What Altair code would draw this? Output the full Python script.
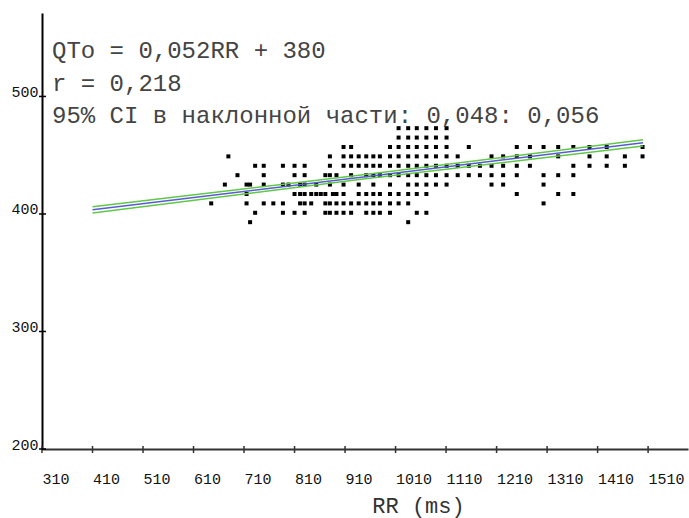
import altair as alt
import pandas as pd

# ---- data ----
rr_columns = [645, 672, 679, 697, 715, 722, 732, 749, 768, 787, 798, 810, 821, 830,
              843, 853, 862, 871, 880, 886, 893, 907, 922, 937, 952, 966, 979, 999,
              1016, 1035, 1052, 1071, 1090, 1111, 1133, 1155, 1177, 1200, 1223, 1250,
              1276, 1303, 1332, 1362, 1394, 1428, 1464, 1499]
qt_by_column = [
    [409], [425], [449], [433], [425, 417, 409], [425, 393], [441, 401],
    [441, 433, 425, 409], [409], [441, 425, 409, 401], [425], [441, 433, 417, 401],
    [425, 417, 409], [441, 433, 425, 417, 409, 401],
    [417, 409], [425, 417], [417], [433, 417, 409, 401], [449, 441, 433, 425, 409, 401],
    [417], [433, 417, 409, 401], [457, 449, 441, 425, 417, 409, 401],
    [457, 449, 441, 433, 409, 401], [449, 441, 425, 417, 409],
    [449, 441, 433, 417, 409, 401], [449, 441, 433, 425, 417, 409, 401],
    [449, 441, 433, 417, 409, 401], [457, 449, 441, 433, 425, 417, 409, 401],
    [473, 465, 457, 449, 441, 433, 417, 409],
    [473, 465, 457, 449, 441, 433, 425, 417, 409, 393],
    [473, 465, 457, 449, 441, 433, 425, 417, 401],
    [473, 465, 457, 449, 441, 433, 425, 417, 401],
    [473, 465, 457, 449, 441, 433, 425],
    [473, 465, 457, 449, 441, 433, 425],
    [449, 441, 433], [457, 441, 433], [441, 433], [449, 441, 433, 425],
    [449, 441, 433, 425], [457, 449, 441, 433, 417], [457, 449, 441],
    [457, 433, 425, 409], [457, 449, 433, 417], [457, 441, 433, 417],
    [457, 449, 441], [457, 449, 441], [449, 441], [457, 449],
]

x_ticks = [310, 410, 510, 610, 710, 810, 910, 1010, 1110, 1210, 1310, 1410, 1510]
y_ticks = [200, 300, 400, 500]

fit_rr = [410, 950, 1500]
fit_qt = [403.5, 431.7, 460.5]
ci_upper_qt = [406.2, 433.5, 463.1]
ci_lower_qt = [400.8, 429.9, 457.9]

annotation_lines = ["QTo = 0,052RR + 380", "r = 0,218",
                    "95% CI в наклонной части: 0,048: 0,056"]
x_title = "RR (ms)"

# ---- tables ----
points_df = pd.DataFrame(
    [{"RR": rr, "QT": qt} for rr, qts in zip(rr_columns, qt_by_column) for qt in qts]
)
lines_df = pd.DataFrame({
    "RR": fit_rr * 3,
    "QT": ci_upper_qt + ci_lower_qt + fit_qt,
    "series": ["ci1"] * 3 + ["ci2"] * 3 + ["fit"] * 3,
})

xs = alt.Scale(domain=[310, 1589], nice=False, zero=False)
ys = alt.Scale(domain=[200, 571], nice=False, zero=False)
MONO = "Liberation Mono"

points = alt.Chart(points_df).mark_square(size=16, color="black", opacity=1).encode(
    x=alt.X("RR:Q", scale=xs, axis=alt.Axis(
        values=x_ticks, format="d", ticks=False, grid=False,
        domainColor="#333", domainWidth=2,
        labelAlign="left", labelBaseline="middle", labelPadding=29,
        labelFont=MONO, labelFontSize=15, labelColor="#111",
        labelOverlap=False, labelFlush=False,
        title=x_title, titleFont=MONO, titleFontSize=22, titleFontWeight="normal",
        titleColor="#333", titleX=376, titleY=63, titleBaseline="alphabetic")),
    y=alt.Y("QT:Q", scale=ys, axis=alt.Axis(
        values=y_ticks, format="d", ticks=False, grid=False,
        domainColor="black", domainWidth=2,
        labelAlign="right", labelBaseline="alphabetic", labelPadding=4,
        labelFont=MONO, labelFontSize=15, labelColor="#111",
        labelOverlap=False, labelFlush=False, title=None)),
)

ci = alt.Chart(lines_df).transform_filter(alt.datum.series != "fit").mark_line(
    color="#5fc847", strokeWidth=1.5).encode(
    x=alt.X("RR:Q", scale=xs), y=alt.Y("QT:Q", scale=ys), detail="series:N")
fit = alt.Chart(lines_df).transform_filter(alt.datum.series == "fit").mark_line(
    color="#5a5ad2", strokeWidth=1.5).encode(
    x=alt.X("RR:Q", scale=xs), y=alt.Y("QT:Q", scale=ys))

xt = alt.Chart(pd.DataFrame({"v": x_ticks})).mark_rule(color="#333", strokeWidth=1.5).encode(
    x=alt.X("v:Q", scale=xs), y=alt.value(433), y2=alt.value(440))
yt = alt.Chart(pd.DataFrame({"v": y_ticks})).mark_rule(color="black", strokeWidth=1.5).encode(
    y=alt.Y("v:Q", scale=ys), x=alt.value(-3), x2=alt.value(4))

texts = []
for line, ypix in zip(annotation_lines, [45, 78, 110]):
    texts.append(alt.Chart(pd.DataFrame({"t": [line]})).mark_text(
        align="left", baseline="alphabetic", font=MONO, fontSize=24, color="#444").encode(
        x=alt.value(10), y=alt.value(ypix), text="t:N"))

chart = alt.layer(points, ci, fit, xt, yt, *texts).properties(
    width=646, height=436,
    autosize=alt.AutoSizeParams(type="none"),
    padding={"left": 42, "top": 13, "right": 1, "bottom": 69},
    background="white",
).configure_view(stroke=None)

chart.save("out.html", embed_options={"renderer": "svg", "actions": False})
